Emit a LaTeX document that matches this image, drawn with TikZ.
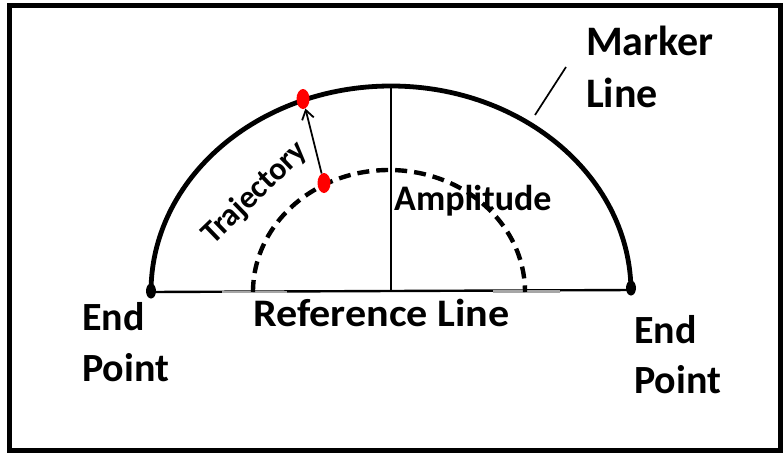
\documentclass[tikz,border=0pt]{standalone}
\usepackage{fontspec}
\setmainfont{Carlito}
\usetikzlibrary{arrows.meta,shapes.geometric}
\tikzset{
  lbl/.style={inner sep=0pt, anchor=base west, font=\bfseries},
  arcline/.style={line width=4.8pt},
  dashline/.style={line width=4.4pt, dash pattern=on 12pt off 7pt},
  reddot/.style={ellipse, fill=red, draw=none, minimum width=13pt, minimum height=20pt, inner sep=0pt},
  enddot/.style={ellipse, fill=black, draw=none, minimum width=10pt, minimum height=15pt, inner sep=0pt},
  frame/.style={line width=4.5pt},
}
\begin{document}
\begin{tikzpicture}[x=1pt,y=-1pt]
\useasboundingbox (0,0) rectangle (784,453);
\fill[white] (0,0) rectangle (784,453);
\draw[frame] (9.5,5.5) rectangle (780.5,450.5);

% coordinates
\coordinate (C) at (391,292);
\coordinate (Top) at (391,86);
\coordinate (L) at (151,292);
\coordinate (R) at (631,290);

% reference line
\draw[line width=2.4pt] (L) -- (R);
\draw[line width=2.6pt, gray!70] (222,292) -- (287,292);
\draw[line width=2.6pt, gray!70] (493,291.5) -- (560,291.5);

% vertical amplitude line
\draw[line width=1.9pt] (Top) -- (C);

% outer marker arc
\draw[arcline] (L) arc[start angle=180, end angle=360, x radius=240, y radius=206];

% inner dashed arc
\draw[dashline] (253,292) arc[start angle=180, end angle=360, x radius=136, y radius=122];

% end points
\node[enddot] (e1) at (151,291) {};
\node[enddot] (e2) at (631,288) {};

% red dots and trajectory arrow
\node[reddot] (p1) at (303,99) {};
\node[reddot] (p2) at (324,183) {};
\draw[line width=1.8pt, -{Straight Barb[length=9pt,width=12pt,line width=1.8pt]}] (p2) -- (p1);

% marker leader
\coordinate (m1) at (535,115);
\coordinate (m2) at (566,67);
\draw[line width=1.7pt] (m1) -- (m2);

% labels
\node[lbl, font=\bfseries\fontsize{42}{50}\selectfont] (mk) at (586,55) {Marker};
\node[lbl, font=\bfseries\fontsize{42}{50}\selectfont] (ml) at (586,107) {Line};
\node[lbl, font=\bfseries\fontsize{40}{48}\selectfont] (le) at (82,330) {End};
\node[lbl, font=\bfseries\fontsize{40}{48}\selectfont] (lp) at (82,381) {Point};
\node[lbl, font=\bfseries\fontsize{40}{48}\selectfont] (re) at (634,343) {End};
\node[lbl, font=\bfseries\fontsize{40}{48}\selectfont] (rp) at (634,393) {Point};
\node[lbl, font=\bfseries\fontsize{39}{46}\selectfont, xscale=1.08] (rl) at (253,326) {Reference Line};
\node[lbl, font=\bfseries\fontsize{36}{44}\selectfont] (am) at (394,210) {Amplitude};
\node[inner sep=0pt, font=\bfseries\fontsize{32}{38}\selectfont, rotate=44] (tr) at (255,193) {Trajectory};
\end{tikzpicture}
\end{document}
